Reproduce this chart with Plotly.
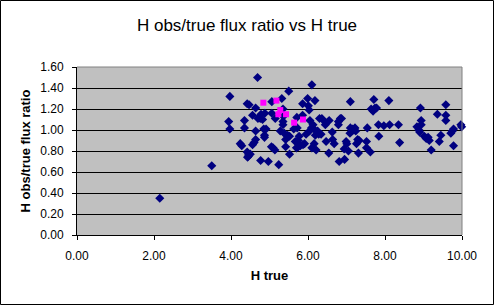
import plotly.graph_objects as go

# Data
h_true = [2.15, 3.50, 3.97, 3.94, 3.97, 4.24, 4.28, 4.35, 4.35, 4.42, 4.47, 4.42, 4.43, 4.46, 4.50, 4.45,
          4.69, 4.64, 4.56, 4.56, 4.60, 4.64, 4.64, 4.73, 4.78, 4.76, 4.70, 4.82, 4.88, 4.85, 4.91, 4.87,
          4.87, 4.77, 4.97, 5.05, 5.09, 5.14, 5.06, 5.06, 5.15, 5.24, 5.32, 5.35, 5.35, 5.35, 5.28, 5.38,
          5.42, 5.42, 5.47, 5.52, 5.50, 5.52, 5.63, 5.67, 5.70, 5.71, 5.72, 5.75, 5.77, 5.75, 5.86, 5.86,
          5.87, 5.91, 5.80, 5.95, 5.99, 6.01, 6.03, 6.05, 6.04, 6.10, 6.10, 6.09, 6.18, 6.18, 6.16, 6.19,
          6.21, 6.28, 6.30, 6.34, 6.36, 6.45, 6.46, 6.47, 6.55, 6.54, 6.63, 6.64, 6.68, 6.79, 6.79, 6.84,
          6.87, 6.81, 6.95, 6.94, 6.99, 7.01, 7.05, 7.09, 7.10, 7.10, 7.19, 7.22, 7.24, 7.26, 7.29, 7.31,
          7.33, 7.52, 7.52, 7.54, 7.62, 7.64, 7.69, 7.71, 7.74, 7.78, 7.83, 7.84, 7.97, 8.10, 8.12, 8.35,
          8.38, 8.83, 8.88, 8.92, 8.94, 8.94, 8.90, 9.02, 9.07, 9.12, 9.15, 9.20, 9.36, 9.41, 9.45, 9.58,
          9.58, 9.58, 9.71, 9.75, 9.78, 9.78, 9.97, 9.99, 5.36, 7.14, 7.16, 6.25, 6.13]
ratio = [0.35, 0.66, 1.32, 1.08, 1.01, 0.87, 0.85, 1.09, 1.02, 1.25, 1.24, 0.79, 0.74, 0.77, 0.77, 0.75,
         1.50, 1.21, 1.14, 0.86, 0.88, 0.91, 0.99, 1.12, 1.15, 1.11, 1.11, 1.10, 1.16, 1.01, 1.01, 0.95,
         0.93, 0.71, 0.70, 0.84, 0.83, 0.81, 1.27, 1.16, 1.11, 0.67, 1.30, 1.20, 1.08, 1.05, 0.99, 0.97,
         0.91, 0.84, 0.95, 0.94, 1.37, 0.77, 1.01, 0.89, 0.83, 1.12, 1.02, 0.90, 0.94, 0.84, 1.25, 1.14,
         0.86, 0.87, 0.85, 0.96, 1.30, 1.23, 1.19, 1.09, 0.99, 1.43, 0.83, 1.02, 1.28, 1.00, 0.87, 0.95,
         0.81, 0.96, 1.11, 0.96, 1.11, 1.05, 1.07, 0.89, 1.09, 0.78, 0.98, 0.91, 0.87, 1.05, 1.08, 1.11,
         1.11, 0.70, 0.72, 0.82, 0.89, 0.87, 0.80, 0.97, 1.02, 1.27, 1.00, 1.02, 0.99, 0.87, 0.91, 0.78,
         0.90, 0.89, 0.83, 1.02, 0.79, 1.20, 1.18, 1.29, 1.21, 1.21, 1.05, 0.94, 1.04, 1.28, 1.05, 1.05,
         0.88, 1.03, 1.00, 1.21, 1.09, 1.05, 0.98, 0.94, 0.92, 0.93, 0.90, 0.81, 1.15, 0.89, 0.95, 1.24,
         1.14, 1.09, 0.97, 0.99, 1.01, 0.85, 1.05, 1.03, 1.13, 0.99, 1.01, 0.99, 1.05]

h_true_sel = [4.84, 5.18, 5.28, 5.23, 5.43, 5.64, 5.87]
ratio_sel = [1.26, 1.28, 1.19, 1.15, 1.15, 1.07, 1.10]

x_ticks = [0, 2, 4, 6, 8, 10]
y_ticks = [0, 0.2, 0.4, 0.6, 0.8, 1.0, 1.2, 1.4, 1.6]

W, H = 494, 305
L, R, T, B = 77, 32, 67, 70
pw, ph = W - L - R, H - T - B

font = "Liberation Sans, Arial, sans-serif"

fig = go.Figure()
fig.add_trace(go.Scatter(x=h_true, y=ratio, mode="markers",
                         marker=dict(symbol="diamond", size=7, color="#000080"),
                         showlegend=False, cliponaxis=False))
fig.add_trace(go.Scatter(x=h_true_sel, y=ratio_sel, mode="markers",
                         marker=dict(symbol="square", size=6, color="#FF00FF"),
                         showlegend=False, cliponaxis=False))

fig.update_layout(
    width=W, height=H,
    margin=dict(l=L, r=R, t=T, b=B, pad=0),
    paper_bgcolor="white", plot_bgcolor="#C0C0C0",
    font=dict(family=font, size=12, color="black"),
    title=dict(text="H obs/true flux ratio vs H true", x=0.5,
               xanchor="center", y=1 - 25 / H, yanchor="middle",
               font=dict(family=font, size=17, color="black")),
    xaxis=dict(range=[0, 10], tickvals=x_ticks, ticktext=[f"{v:.2f}" for v in x_ticks],
               showgrid=False, zeroline=False, showline=True, linecolor="black", linewidth=1,
               ticks="outside", ticklen=4, tickcolor="black", ticklabelstandoff=6,
               title=dict(text="<b>H true</b>", font=dict(family=font, size=13), standoff=8)),
    yaxis=dict(range=[0, 1.6], tickvals=y_ticks, ticktext=[f"{v:.2f}" for v in y_ticks],
               showgrid=True, gridcolor="black", gridwidth=1, zeroline=False,
               showline=True, linecolor="black", linewidth=1,
               ticks="outside", ticklen=4, tickcolor="black", ticklabelstandoff=6,
               title=dict(text="<b>H obs/true flux ratio</b>", font=dict(family=font, size=13), standoff=6)),
    shapes=[
        # grey top and right border of the plot area
        dict(type="line", xref="paper", yref="paper", x0=0, x1=1, y0=1, y1=1,
             line=dict(color="#808080", width=1), layer="above"),
        dict(type="line", xref="paper", yref="paper", x0=1, x1=1, y0=0, y1=1,
             line=dict(color="#808080", width=1), layer="above"),
        # outer frame of the chart
        dict(type="rect", xref="paper", yref="paper",
             x0=-(L - 0.5) / pw, x1=1 + (R - 0.5) / pw,
             y0=-(B - 0.5) / ph, y1=1 + (T - 0.5) / ph,
             line=dict(color="black", width=1), layer="above"),
    ],
)

fig.write_html("out.html")
